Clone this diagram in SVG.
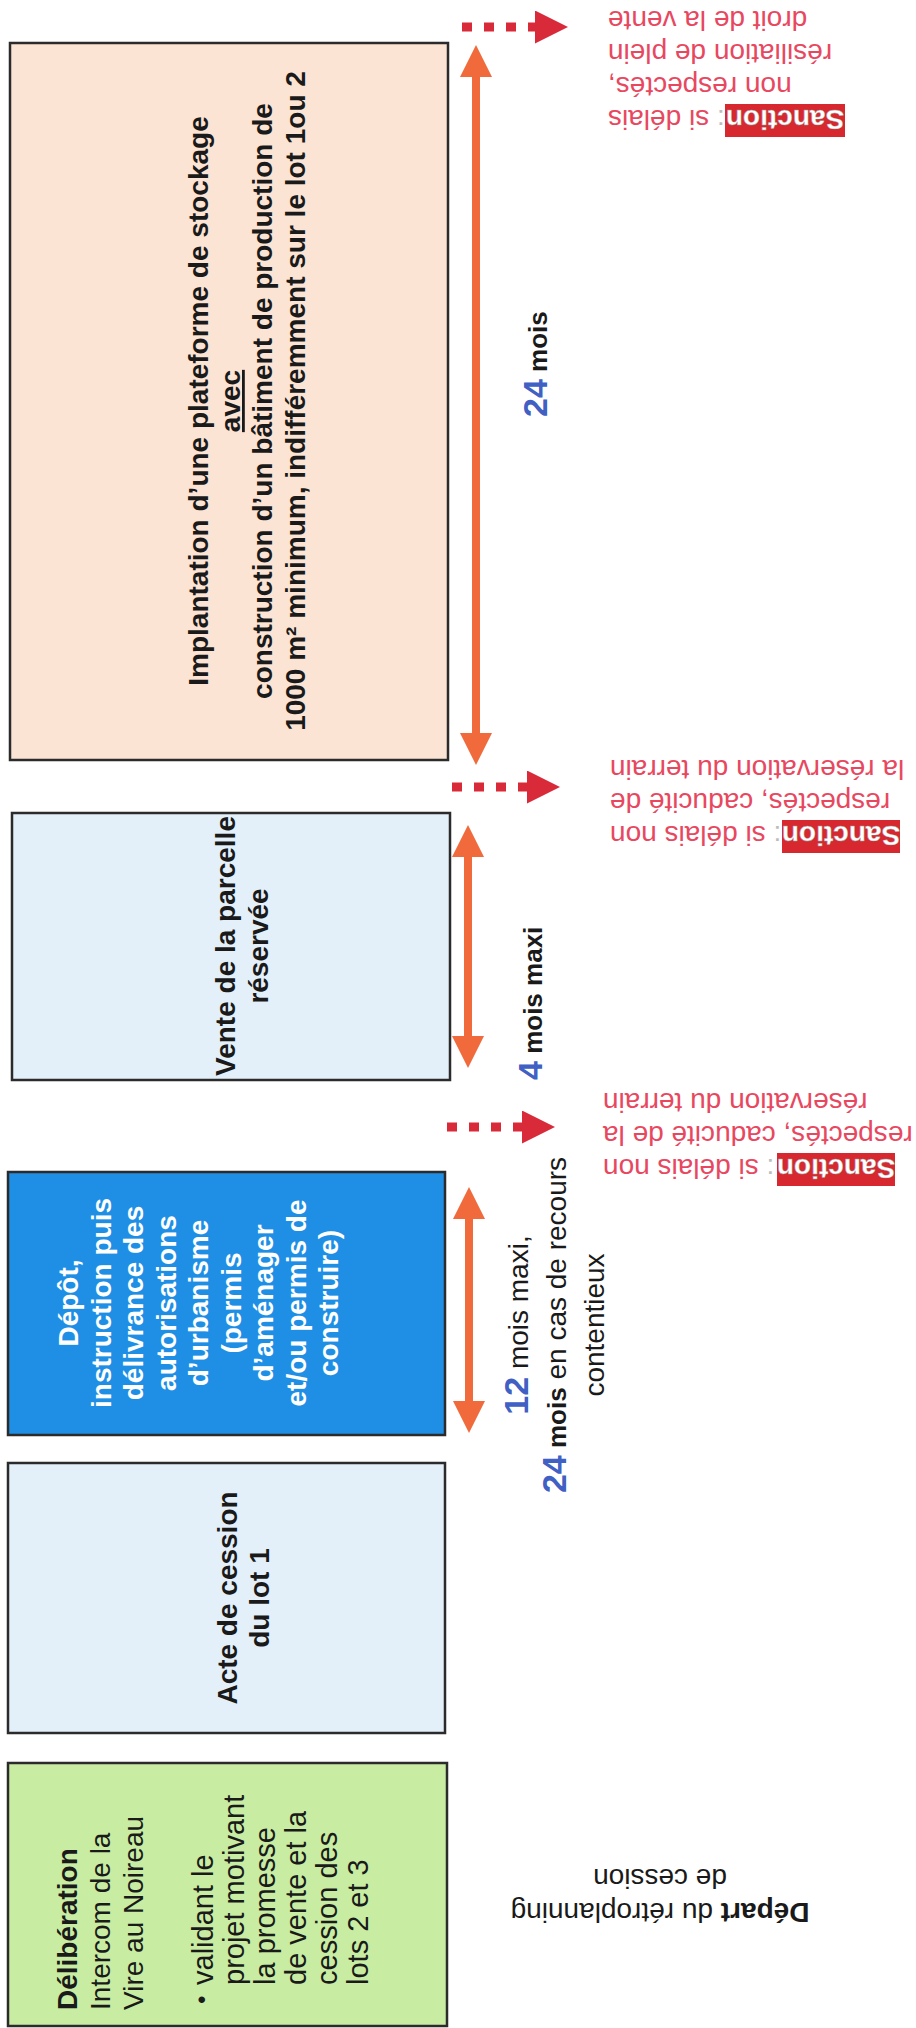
<svg xmlns="http://www.w3.org/2000/svg" width="916" height="2028" viewBox="0 0 916 2028">
<style>
.t{font-family:"Liberation Sans",Arial,sans-serif;font-size:28px;fill:#1a1a1a}
.b{font-weight:bold}
.w{fill:#ffffff}
.box{stroke:#2b2b2b;stroke-width:2.5}
.arr{stroke:#f06a3c;stroke-width:8;fill:none;marker-start:url(#oh);marker-end:url(#oh)}
.dot{stroke:#d92a3a;stroke-width:9;fill:none;stroke-dasharray:10 12;marker-end:url(#rh)}
.san{fill:#e8485f}
.num{fill:#4060c4;font-weight:bold;font-size:34px}
.lab{fill:#d7282f}
.col{fill:#bdbdbd}
</style>
<defs>
<marker id="oh" markerUnits="userSpaceOnUse" markerWidth="32" markerHeight="32" viewBox="0 0 32 32" refX="0" refY="16" orient="auto-start-reverse"><path d="M0,0 L32,16 L0,32 Z" fill="#f06a3c"/></marker>
<marker id="rh" markerUnits="userSpaceOnUse" markerWidth="33" markerHeight="33" viewBox="0 0 33 33" refX="0" refY="16.5" orient="auto"><path d="M0,0 L33,16.5 L0,33 Z" fill="#d92a3a"/></marker>
</defs>

<g id="n1">
<rect class="box" x="10" y="43" width="438" height="717" fill="#fce4d4"/>
<g class="t b" transform="translate(0,401) rotate(-90)" text-anchor="middle">
<text y="208">Implantation d’une plateforme de stockage</text>
<text y="240" text-decoration="underline">avec</text>
<text y="272">construction d’un bâtiment de production de</text>
<text y="305">1000 m² minimum, indifféremment sur le lot 1ou 2</text>
</g>
</g>

<g id="n2">
<rect class="box" x="12" y="813" width="438" height="267" fill="#e4f0f9"/>
<g class="t b" transform="translate(0,946) rotate(-90)" text-anchor="middle">
<text y="235">Vente de la parcelle</text>
<text y="268">réservée</text>
</g>
</g>

<g id="n3">
<rect class="box" x="8" y="1172" width="437" height="263" fill="#1f8fe6"/>
<g class="t b w" transform="translate(0,1303) rotate(-90)" text-anchor="middle">
<text class="w" y="78">Dépôt,</text>
<text class="w" y="110.5">instruction puis</text>
<text class="w" y="143">délivrance des</text>
<text class="w" y="175.5">autorisations</text>
<text class="w" y="208">d’urbanisme</text>
<text class="w" y="240.5">(permis</text>
<text class="w" y="273">d’aménager</text>
<text class="w" y="305.5">et/ou permis de</text>
<text class="w" y="338">construire)</text>
</g>
</g>

<g id="n4">
<rect class="box" x="8" y="1463" width="437" height="270" fill="#e4f0f9"/>
<g class="t b" transform="translate(0,1598) rotate(-90)" text-anchor="middle">
<text y="237">Acte de cession</text>
<text y="269">du lot 1</text>
</g>
</g>

<g id="n5">
<rect class="box" x="8" y="1763" width="439" height="263" fill="#c8eda2"/>
<g class="t" transform="translate(0,2010) rotate(-90)">
<text class="b" x="0" y="77">Délibération</text>
<text x="0" y="110">Intercom de la</text>
<text x="0" y="143">Vire au Noireau</text>
<text x="6" y="210" font-size="24">•</text>
<text x="25" y="213" font-size="29">validant le</text>
<text x="25" y="244" font-size="29">projet motivant</text>
<text x="25" y="275" font-size="29">la promesse</text>
<text x="25" y="306" font-size="29">de vente et la</text>
<text x="25" y="337" font-size="29">cession des</text>
<text x="25" y="368" font-size="29">lots 2 et 3</text>
</g>
</g>

<g id="connectors">
<line class="arr" x1="476" y1="77" x2="476" y2="733"/>
<line class="arr" x1="468" y1="857" x2="468" y2="1036"/>
<line class="arr" x1="469" y1="1219" x2="469" y2="1401"/>
<line class="dot" x1="462" y1="27" x2="535" y2="27"/>
<line class="dot" x1="452" y1="787" x2="527" y2="787"/>
<line class="dot" x1="447" y1="1127" x2="522" y2="1127"/>
</g>

<g id="dur1" class="t" transform="translate(0,417) rotate(-90)">
<text x="0" y="547"><tspan class="num">24</tspan><tspan class="b" font-size="26"> mois</tspan></text>
</g>
<g id="dur2" class="t" transform="translate(0,1080) rotate(-90)">
<text x="0" y="542"><tspan class="num">4</tspan><tspan class="b" font-size="26"> mois maxi</tspan></text>
</g>
<g id="dur3" class="t" transform="translate(0,1325) rotate(-90)" text-anchor="middle">
<text y="528"><tspan class="num">12</tspan> mois maxi,</text>
<text y="566"><tspan class="num">24</tspan><tspan class="b" font-size="26"> mois</tspan> en cas de recours</text>
<text y="604">contentieux</text>
</g>

<g id="sanction1" class="t" transform="rotate(180 730 60)">
<rect class="lab" x="615" y="-17" width="120" height="33"/>
<text class="b w" x="675" y="10" text-anchor="middle" stroke="#9a9a9a" stroke-width="0.4">Sanction</text>
<text class="san" x="852" y="10" text-anchor="end"><tspan class="col">:</tspan> si délais</text>
<text class="san" x="852" y="43" text-anchor="end">non respectés,</text>
<text class="san" x="852" y="76" text-anchor="end">résiliation de plein</text>
<text class="san" x="852" y="109" text-anchor="end">droit de la vente</text>
</g>

<g id="sanction2" class="t" transform="rotate(180 756 806)">
<rect class="lab" x="612" y="759" width="118" height="33"/>
<text class="b w" x="671" y="786" text-anchor="middle" stroke="#9a9a9a" stroke-width="0.4">Sanction</text>
<text class="san" x="902" y="786" text-anchor="end"><tspan class="col">:</tspan> si délais non</text>
<text class="san" x="902" y="819" text-anchor="end">respectés, caducité de</text>
<text class="san" x="902" y="852" text-anchor="end">la réservation du terrain</text>
</g>

<g id="sanction3" class="t" transform="rotate(180 756 1126)">
<rect class="lab" x="617" y="1066" width="118" height="33"/>
<text class="b w" x="676" y="1093" text-anchor="middle" stroke="#9a9a9a" stroke-width="0.4">Sanction</text>
<text class="san" x="909" y="1093" text-anchor="end"><tspan class="col">:</tspan> si délais non</text>
<text class="san" x="909" y="1126" text-anchor="end">respectés, caducité de la</text>
<text class="san" x="909" y="1159" text-anchor="end">réservation du terrain</text>
</g>

<g id="depart" class="t" transform="rotate(180 660 1886)" text-anchor="middle">
<text x="660" y="1869"><tspan class="b">Départ</tspan> du rétroplanning</text>
<text x="660" y="1903">de cession</text>
</g>
</svg>
